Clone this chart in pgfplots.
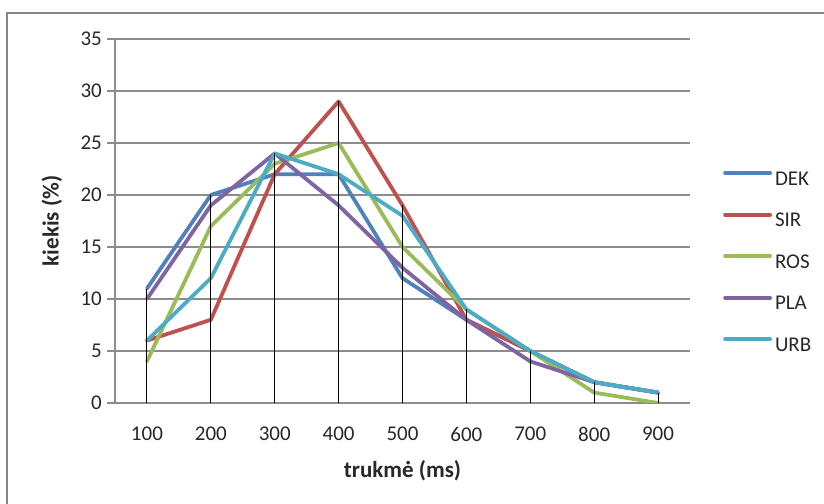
\documentclass[border=0pt]{standalone}
\usepackage{pgfplots}
\pgfplotsset{compat=1.18}
\usepackage{fontspec}
\setmainfont{Carlito}

\definecolor{cDEK}{RGB}{79,129,189}
\definecolor{cSIR}{RGB}{192,80,77}
\definecolor{cROS}{RGB}{155,187,89}
\definecolor{cPLA}{RGB}{128,100,162}
\definecolor{cURB}{RGB}{75,172,198}
\definecolor{gridgray}{RGB}{140,140,140}
\definecolor{txt}{RGB}{40,40,40}

\begin{document}
\begin{tikzpicture}
\useasboundingbox (0,0) rectangle (824pt,503pt);
% chart frame
\draw[color={rgb,255:red,134;green,134;blue,134}, line width=2pt]
  (7pt,-5pt) -- (7pt,490pt) -- (830pt,490pt);
\begin{axis}[
  at={(115pt,100pt)}, anchor=south west,
  scale only axis,
  width=575pt, height=364pt,
  xmin=50, xmax=950, ymin=0, ymax=35,
  xtick={100,200,...,900},
  ytick={0,5,...,35},
  axis x line*=bottom, axis y line*=left,
  axis line style={-, draw=gridgray, line width=1.3pt},
  ymajorgrids,
  grid style={draw=gridgray, line width=1.3pt},
  tick align=outside,
  major tick length=8pt,
  xtick style={draw=none},
  ytick style={draw=gridgray, line width=1.3pt},
  /pgf/number format/assume math mode=true,
  /pgf/number format/1000 sep={},
  tick label style={font=\fontsize{21}{25}\selectfont, text=txt},
  yticklabel style={inner sep=0pt, xshift=-5pt},
  xticklabel style={inner sep=0pt, yshift=-16pt},
  xlabel={trukmė (ms)},
  ylabel={kiekis (\%)},
  every axis x label/.style={at={(axis description cs:0.5,-0.187)}, anchor=center,
    font=\fontsize{23}{27}\selectfont\bfseries, text=txt},
  every axis y label/.style={at={(axis description cs:-0.110,0.5)}, rotate=90, anchor=center,
    font=\fontsize{23}{27}\selectfont\bfseries, text=txt},
  every axis plot/.append style={line width=3.8pt, line join=round, line cap=round},
  legend style={
    at={(axis description cs:1.0574,0.640)}, anchor=north west,
    draw=none, fill=none, inner sep=0pt, row sep=21.5pt, column sep=3pt,
    font=\fontsize{21}{25}\selectfont, text=txt,
    nodes={inner sep=0pt, text height=15pt, text depth=5pt}},
  legend cell align=left,
  legend image code/.code={\draw[#1, line cap=round] (0pt,7pt) -- (45pt,7pt);},
]
\addplot[cDEK] coordinates {(100,11)(200,20)(300,22)(400,22)(500,12)(600,8)(700,5)(800,2)(900,1)};
\addlegendentry{DEK}
\addplot[cSIR] coordinates {(100,6)(200,8)(300,22)(400,29)(500,19)(600,8)(700,5)(800,2)(900,1)};
\addlegendentry{SIR}
\addplot[cROS] coordinates {(100,4)(200,17)(300,23)(400,25)(500,15)(600,9)(700,5)(800,1)(900,0)};
\addlegendentry{ROS}
\addplot[cPLA] coordinates {(100,10)(200,19)(300,24)(400,19)(500,13)(600,8)(700,4)(800,2)(900,1)};
\addlegendentry{PLA}
\addplot[cURB] coordinates {(100,6)(200,12)(300,24)(400,22)(500,18)(600,9)(700,5)(800,2)(900,1)};
\addlegendentry{URB}
% high-low lines from the axis up to the largest value of each category
\addplot[black, line width=0.9pt, line cap=butt, ycomb, forget plot]
  coordinates {(100,11)(200,20)(300,24)(400,29)(500,19)(600,9)(700,5)(800,2)(900,1)};
\end{axis}
\end{tikzpicture}
\end{document}
